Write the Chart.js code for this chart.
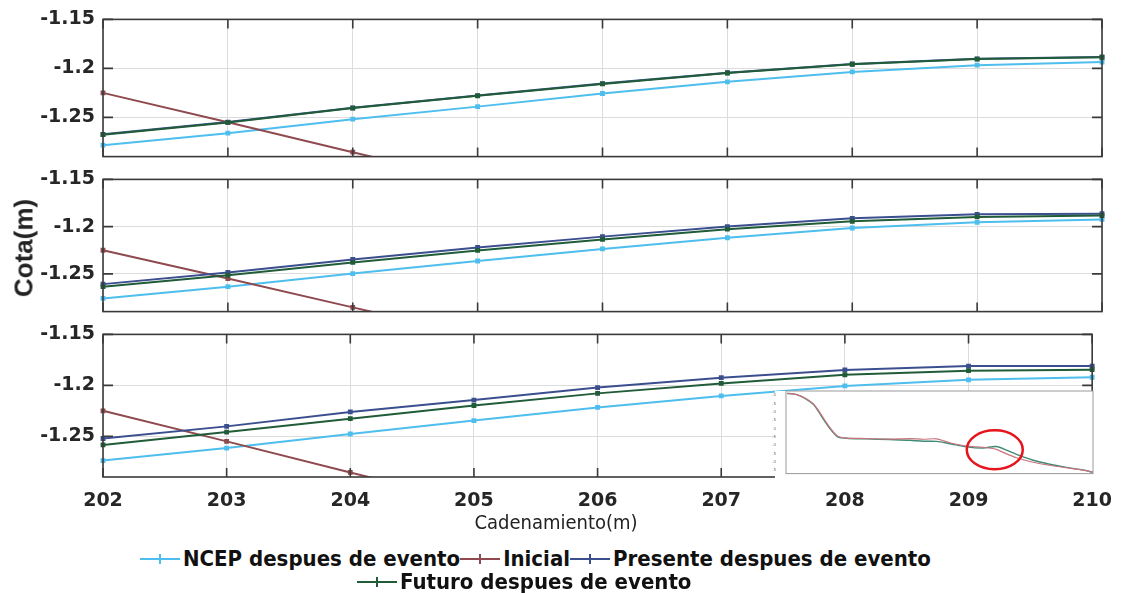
<!DOCTYPE html>
<html>
<head>
<meta charset="utf-8">
<script src="https://cdn.jsdelivr.net/npm/chart.js@4.4.1/dist/chart.umd.min.js"></script>
<style>
  html, body { margin: 0; padding: 0; background: #fff; }
  #page { position: relative; width: 1125px; height: 593px; overflow: hidden; }
  .panel { position: absolute; left: 0; width: 1125px; }
  #p1 { top: 0; height: 176px; }
  #p2 { top: 160px; height: 171px; }
  #p3 { top: 315px; height: 220px; }
  #insetBox { position: absolute; left: 772px; top: 386px; width: 326px; height: 92px; }
  #ytitle {
    position: absolute; left: 24px; top: 248px;
    transform: translate(-50%, -50%) rotate(-90deg);
    font: bold 26px "Liberation Sans", Arial, sans-serif; color: #222; white-space: nowrap;
  }
  #xtitle {
    position: absolute; left: 556px; top: 522px; transform: translate(-50%, -50%);
    font: 20px "DejaVu Sans Condensed", "DejaVu Sans", sans-serif; color: #222; white-space: nowrap;
  }
  .legrow { position: absolute; display: flex; align-items: center; white-space: nowrap;
    font: bold 22px "DejaVu Sans Condensed", "Liberation Sans Narrow", "DejaVu Sans", sans-serif;
    font-stretch: condensed; color: #111; }
  .mark { position: relative; width: 40px; height: 20px; margin-right: 3px; }
  .mark i { position: absolute; left: 0; right: 0; top: 9px; height: 2px; }
  .mark b { position: absolute; left: 19px; top: 5px; width: 2px; height: 10px; }
</style>
</head>
<body>
<div id="page">
  <div class="panel" id="p1"><canvas id="c1"></canvas></div>
  <div class="panel" id="p2"><canvas id="c2"></canvas></div>
  <div class="panel" id="p3"><canvas id="c3"></canvas></div>
  <div id="insetBox"><canvas id="c4"></canvas></div>
  <div id="ytitle">Cota(m)</div>
  <div id="xtitle">Cadenamiento(m)</div>
  <div class="legrow" id="leg1" style="left:140px; top:546px;"></div>
  <div class="legrow" id="leg2" style="left:357px; top:569px;"></div>
</div>
<script>
// x positions (cadenamiento) and y ticks shared by the three panels
const cadenamiento = ['202', '203', '204', '205', '206', '207', '208', '209', '210'];
const yTicks = [-1.25, -1.2, -1.15];

const seriesNames = ['NCEP despues de evento', 'Inicial', 'Presente despues de evento', 'Futuro despues de evento'];
const seriesColors = ['#4DBEEE', '#8E4A4F', '#3B4F8F', '#215C39'];

// initial profile (same in every panel)
const inicial = [-1.225, -1.255, -1.2855, -1.316, null, null, null, null, null];

// panel 1
const ncep1     = [-1.2783, -1.2661, -1.2518, -1.2390, -1.2256, -1.2137, -1.2036, -1.1967, -1.1935];
const presente1 = [-1.2673, -1.2548, -1.2402, -1.2277, -1.2155, -1.2044, -1.1955, -1.1902, -1.1884];
const futuro1   = [-1.2676, -1.2551, -1.2405, -1.2280, -1.2158, -1.2047, -1.1958, -1.1905, -1.1887];

// panel 2
const ncep2     = [-1.2760, -1.2636, -1.2497, -1.2364, -1.2236, -1.2118, -1.2015, -1.1955, -1.1924];
const presente2 = [-1.2609, -1.2485, -1.2348, -1.2221, -1.2106, -1.2000, -1.1912, -1.1870, -1.1864];
const futuro2   = [-1.2636, -1.2515, -1.2379, -1.2252, -1.2136, -1.2027, -1.1943, -1.1897, -1.1882];

// panel 3
const ncep3     = [-1.2739, -1.2616, -1.2478, -1.2346, -1.2217, -1.2104, -1.2006, -1.1946, -1.1921];
const presente3 = [-1.2522, -1.2403, -1.2261, -1.2145, -1.2022, -1.1925, -1.1849, -1.1811, -1.1811];
const futuro3   = [-1.2585, -1.2459, -1.2327, -1.2198, -1.2079, -1.1981, -1.1896, -1.1856, -1.1846];

// inset: full beach profile, two surveys
const insetX     = [0.4, 2.4, 4.6, 6.7, 8.9, 10.5, 12.1, 14.3, 15.9, 17.0, 19.7, 26.2, 33.8, 40.3, 44.7, 49.0, 53.4, 58.8, 64.2, 68.5, 71.8, 75.1, 80.5, 85.9, 91.3, 96.7, 100];
const insetGreen = [2.10, 2.08, 1.96, 1.75, 1.45, 1.05, 0.58, 0.00, -0.34, -0.51, -0.58, -0.62, -0.66, -0.70, -0.76, -0.77, -0.91, -1.10, -1.17, -1.08, -1.29, -1.55, -1.90, -2.14, -2.33, -2.48, -2.62];
const insetRed   = [2.10, 2.08, 1.96, 1.77, 1.48, 1.10, 0.65, 0.06, -0.30, -0.48, -0.57, -0.60, -0.63, -0.60, -0.64, -0.62, -0.85, -1.05, -1.12, -1.25, -1.52, -1.75, -2.02, -2.20, -2.35, -2.49, -2.62];
const insetTicks = [2, 1.5, 1, 0.5, 0, -0.5, -1, -1.5, -2, -2.5];
const circleAt = [68, -1.27];

Chart.defaults.animation = false;
Chart.defaults.font.family = '"DejaVu Sans", sans-serif';

// box around each panel with inward tick marks on all four sides
const frame = {
  id: 'frame',
  afterDatasetsDraw(chart) {
    const { ctx, chartArea: a, scales: { x, y } } = chart;
    ctx.save();
    ctx.strokeStyle = '#3a3a3a';
    ctx.lineWidth = 1.6;
    ctx.beginPath();
    x.ticks.forEach((t, i) => {
      const px = x.getPixelForTick(i);
      ctx.moveTo(px, a.top); ctx.lineTo(px, a.top + 9);
      ctx.moveTo(px, a.bottom); ctx.lineTo(px, a.bottom - 9);
    });
    y.ticks.forEach(t => {
      const py = y.getPixelForValue(t.value);
      ctx.moveTo(a.left, py); ctx.lineTo(a.left + 10, py);
      ctx.moveTo(a.right, py); ctx.lineTo(a.right - 10, py);
    });
    ctx.stroke();
    ctx.strokeRect(a.left, a.top, a.width, a.height);
    ctx.restore();
  }
};

function makeDatasets(ncep, presente, futuro) {
  const values = [ncep, inicial, presente, futuro];
  return values.map((data, i) => ({
    label: seriesNames[i],
    data: data,
    borderColor: seriesColors[i],
    backgroundColor: seriesColors[i],
    borderWidth: 2,
    pointRadius: 2,
    pointStyle: 'rect',
    order: 4 - i,
    spanGaps: false
  }));
}

function makePanel(id, datasets, padTop, showX) {
  return new Chart(document.getElementById(id), {
    type: 'line',
    data: { labels: cadenamiento, datasets: datasets },
    options: {
      responsive: true,
      maintainAspectRatio: false,
      layout: { padding: { top: padTop, right: 23, bottom: showX ? 0 : 2, left: 0 } },
      plugins: { legend: { display: false }, tooltip: { enabled: false } },
      scales: {
        x: {
          grid: { color: '#dcdcdc', drawTicks: false },
          border: { display: false },
          ticks: {
            display: showX, padding: 13, color: '#262626',
            font: { size: 19, weight: 'bold' }, maxRotation: 0
          },
          afterFit: s => { s.height = showX ? 58 : 0; }
        },
        y: {
          min: -1.29,
          max: -1.15,
          grid: { color: '#dcdcdc', drawTicks: false },
          border: { display: false },
          afterBuildTicks: s => { s.ticks = yTicks.map(v => ({ value: v })); },
          ticks: {
            padding: 8, color: '#262626',
            font: { size: 19, weight: 'bold' },
            callback: v => String(v)
          },
          afterFit: s => { s.width = 103; }
        }
      }
    },
    plugins: [frame]
  });
}

makePanel('c1', makeDatasets(ncep1, presente1, futuro1), 17, false);
makePanel('c2', makeDatasets(ncep2, presente2, futuro2), 14, false);
makePanel('c3', makeDatasets(ncep3, presente3, futuro3), 14, true);

// inset: white card, grey frame and the red circle
const insetDeco = {
  id: 'insetDeco',
  beforeDraw(chart) {
    const { ctx, width, height, chartArea: a } = chart;
    ctx.save();
    ctx.fillStyle = '#fff';
    ctx.fillRect(3, a.top, width - 3, height - a.top);
    ctx.restore();
  },
  afterDraw(chart) {
    const { ctx, chartArea: a, scales: { x, y } } = chart;
    ctx.save();
    ctx.strokeStyle = '#9a9a9a';
    ctx.lineWidth = 1;
    ctx.strokeRect(a.left, a.top, a.width, a.height);
    ctx.strokeStyle = '#e5141b';
    ctx.lineWidth = 2.5;
    ctx.beginPath();
    ctx.ellipse(x.getPixelForValue(circleAt[0]), y.getPixelForValue(circleAt[1]), 28, 19.5, 0, 0, Math.PI * 2);
    ctx.stroke();
    ctx.restore();
  }
};

new Chart(document.getElementById('c4'), {
  type: 'line',
  data: {
    labels: insetX,
    datasets: [
      { data: insetX.map((v, i) => ({ x: v, y: insetRed[i] })), borderColor: '#c9737d', borderWidth: 1.2, pointRadius: 0, tension: 0.3 },
      { data: insetX.map((v, i) => ({ x: v, y: insetGreen[i] })), borderColor: '#3f8a76', borderWidth: 1.4, pointRadius: 0, tension: 0.3 }
    ]
  },
  options: {
    responsive: true,
    maintainAspectRatio: false,
    layout: { padding: { top: 5, right: 5, bottom: 1, left: 0 } },
    plugins: { legend: { display: false }, tooltip: { enabled: false } },
    scales: {
      x: {
        type: 'linear', min: 0, max: 100,
        grid: { display: false },
        border: { display: false },
        ticks: { display: false },
        afterFit: s => { s.height = 0; }
      },
      y: {
        min: -2.7, max: 2.25,
        grid: { display: false },
        border: { display: false },
        afterBuildTicks: s => { s.ticks = insetTicks.map(v => ({ value: v })); },
        ticks: { padding: 2, color: '#777', font: { size: 4 } },
        afterFit: s => { s.width = 14; }
      }
    }
  },
  plugins: [insetDeco]
});

// legend rows
function legendItem(i) {
  return '<span class="mark"><i style="background:' + seriesColors[i] + '"></i><b style="background:' +
    seriesColors[i] + '"></b></span><span>' + seriesNames[i] + '</span>';
}
document.getElementById('leg1').innerHTML = [0, 1, 2].map(legendItem).join('');
document.getElementById('leg2').innerHTML = legendItem(3);
</script>
</body>
</html>
